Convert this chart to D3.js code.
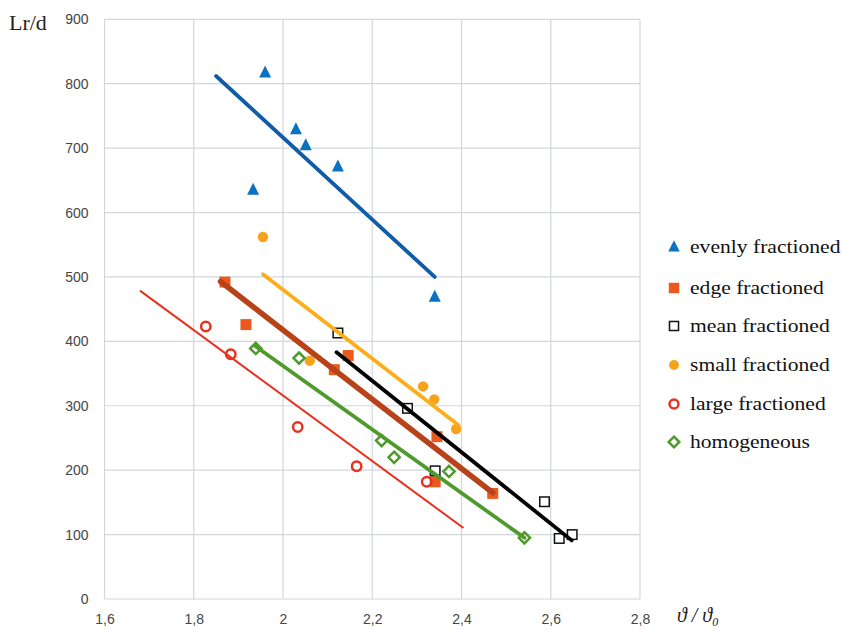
<!DOCTYPE html>
<html><head><meta charset="utf-8">
<script src="https://cdn.jsdelivr.net/npm/d3@7"></script>
<style>body{margin:0;background:#fff}svg{display:block}</style>
</head><body>
<svg id="c" width="842" height="630"></svg>
<script>
// ---- data ----
const seriesNames = ["evenly fractioned","edge fractioned","mean fractioned","small fractioned","large fractioned","homogeneous"];
const evenlyX = [1.960, 2.029, 2.051, 2.123, 1.933, 2.340];
const evenlyY = [817, 729, 704, 671, 635, 469];
const edgeX = [1.870, 1.917, 2.115, 2.146, 2.345, 2.341, 2.470];
const edgeY = [492, 426, 356, 378, 252, 182, 164];
const meanX = [2.123, 2.279, 2.341, 2.586, 2.619, 2.648];
const meanY = [413, 296, 199, 151, 94, 100];
const smallX = [1.955, 2.060, 2.314, 2.339, 2.388];
const smallY = [562, 370, 330, 310, 264];
const largeX = [1.827, 1.883, 2.033, 2.165, 2.322];
const largeY = [423, 380, 267, 206, 182];
const homoX = [1.939, 2.036, 2.221, 2.249, 2.372, 2.541];
const homoY = [389, 374, 246, 220, 198, 95];
// trend line end points [x1, y1, x2, y2]
const evenlyTrend = [1.850, 812, 2.340, 500];
const edgeTrend = [1.860, 493, 2.470, 165];
const meanTrend = [2.120, 383, 2.647, 91];
const smallTrend = [1.955, 504, 2.393, 270];
const largeTrend = [1.681, 478, 2.403, 111];
const homoTrend = [1.939, 392, 2.541, 95];
const xTicks = [1.6, 1.8, 2.0, 2.2, 2.4, 2.6, 2.8];
const xTickLabels = ["1,6","1,8","2","2,2","2,4","2,6","2,8"];
const yTicks = [0,100,200,300,400,500,600,700,800,900];

// ---- drawing ----
const svg = d3.select("#c");
const x = d3.scaleLinear().domain([1.6, 2.8]).range([104.5, 640]);
const y = d3.scaleLinear().domain([0, 900]).range([599, 19.3]);

const grid = svg.append("g");
grid.selectAll("line.v").data(xTicks).join("line")
  .attr("x1", d => x(d)).attr("x2", d => x(d)).attr("y1", y(900)).attr("y2", y(0))
  .attr("stroke", "#d2d6db").attr("stroke-width", 1.2);
grid.selectAll("line.h").data(yTicks).join("line")
  .attr("y1", d => y(d)).attr("y2", d => y(d)).attr("x1", x(1.6)).attr("x2", x(2.8))
  .attr("stroke", "#d2d6db").attr("stroke-width", 1.2);

const tickFont = "Liberation Sans, Arial, sans-serif";
const xAxis = d3.axisBottom(x).tickValues(xTicks).tickFormat((d,i) => xTickLabels[i]).tickSize(0).tickPadding(15);
svg.append("g").attr("transform", `translate(0,${y(0)})`).call(xAxis)
  .call(g => g.select(".domain").remove())
  .selectAll("text").attr("font-family", tickFont).attr("font-size", 14).attr("fill", "#454545");
const yAxis = d3.axisLeft(y).tickValues(yTicks).tickSize(0).tickPadding(16);
svg.append("g").attr("transform", `translate(${x(1.6)},0)`).call(yAxis)
  .call(g => g.select(".domain").remove())
  .selectAll("text").attr("font-family", tickFont).attr("font-size", 14).attr("fill", "#454545");

const series = [
  {name: seriesNames[0], xs: evenlyX, ys: evenlyY, trend: evenlyTrend, sym: "tri", color: "#0a72c2", line: "#105ca8", lw: 3.8},
  {name: seriesNames[1], xs: edgeX, ys: edgeY, trend: edgeTrend, sym: "sq", color: "#ea5a1e", line: "#b8431a", lw: 5.5},
  {name: seriesNames[2], xs: meanX, ys: meanY, trend: meanTrend, sym: "osq", color: "#111", line: "#000", lw: 3.8},
  {name: seriesNames[3], xs: smallX, ys: smallY, trend: smallTrend, sym: "dot", color: "#f6a31c", line: "#fbad1a", lw: 3.8},
  {name: seriesNames[4], xs: largeX, ys: largeY, trend: largeTrend, sym: "ocirc", color: "#e8311f", line: "#e8311f", lw: 2},
  {name: seriesNames[5], xs: homoX, ys: homoY, trend: homoTrend, sym: "odia", color: "#4f9a2c", line: "#4f9a2c", lw: 3.8}
];

function marker(g, s, cx, cy, k) {
  k = k || 1;
  if (s.sym === "tri") {
    const h = 12*k, w = 12*k;
    g.append("path").attr("d", `M${cx},${cy-h*0.6}L${cx+w/2},${cy+h*0.4}L${cx-w/2},${cy+h*0.4}Z`).attr("fill", s.color);
  } else if (s.sym === "sq") {
    const a = 11*k;
    g.append("rect").attr("x", cx-a/2).attr("y", cy-a/2).attr("width", a).attr("height", a).attr("fill", s.color);
  } else if (s.sym === "osq") {
    const a = 9.5*k;
    g.append("rect").attr("x", cx-a/2).attr("y", cy-a/2).attr("width", a).attr("height", a).attr("fill", "#fff").attr("stroke", s.color).attr("stroke-width", 1.5);
  } else if (s.sym === "dot") {
    g.append("circle").attr("cx", cx).attr("cy", cy).attr("r", 5.2*k).attr("fill", s.color);
  } else if (s.sym === "ocirc") {
    g.append("circle").attr("cx", cx).attr("cy", cy).attr("r", 4.7*k).attr("fill", "none").attr("stroke", s.color).attr("stroke-width", 2.5);
  } else if (s.sym === "odia") {
    const r = 5.6*k;
    g.append("path").attr("d", `M${cx},${cy-r}L${cx+r},${cy}L${cx},${cy+r}L${cx-r},${cy}Z`).attr("fill", "none").attr("stroke", s.color).attr("stroke-width", 2.5);
  }
}

const markG = svg.append("g"), lineG = svg.append("g");
series.forEach(s => {
  s.xs.forEach((v, i) => marker(markG, s, x(v), y(s.ys[i])));
});
series.forEach(s => {
  const t = s.trend;
  lineG.append("line").attr("x1", x(t[0])).attr("y1", y(t[1])).attr("x2", x(t[2])).attr("y2", y(t[3]))
    .attr("stroke", s.line).attr("stroke-width", s.lw).attr("stroke-linecap", "round");
});

// legend
const leg = svg.append("g");
const legY = [247, 288, 326, 365, 404, 442];
const serif = "Liberation Serif, Times New Roman, serif";
series.forEach((s, i) => {
  marker(leg, s, 674, legY[i], 0.95);
  leg.append("text").attr("transform", `translate(690,${legY[i] + 6}) scale(1.2,1)`).text(s.name)
    .attr("font-family", serif).attr("font-size", 18).attr("fill", "#111");
});

// axis titles
svg.append("text").attr("transform", "translate(9,30) scale(1.1,1)").text("Lr/d")
  .attr("font-family", serif).attr("font-size", 20).attr("fill", "#222");
const xt = svg.append("text").attr("x", 677).attr("y", 622)
  .attr("font-family", serif).attr("font-size", 20).attr("fill", "#222").attr("font-style", "italic");
xt.append("tspan").text("ϑ / ϑ");
xt.append("tspan").text("0").attr("font-size", 12).attr("dy", 4);
</script>
</body></html>
